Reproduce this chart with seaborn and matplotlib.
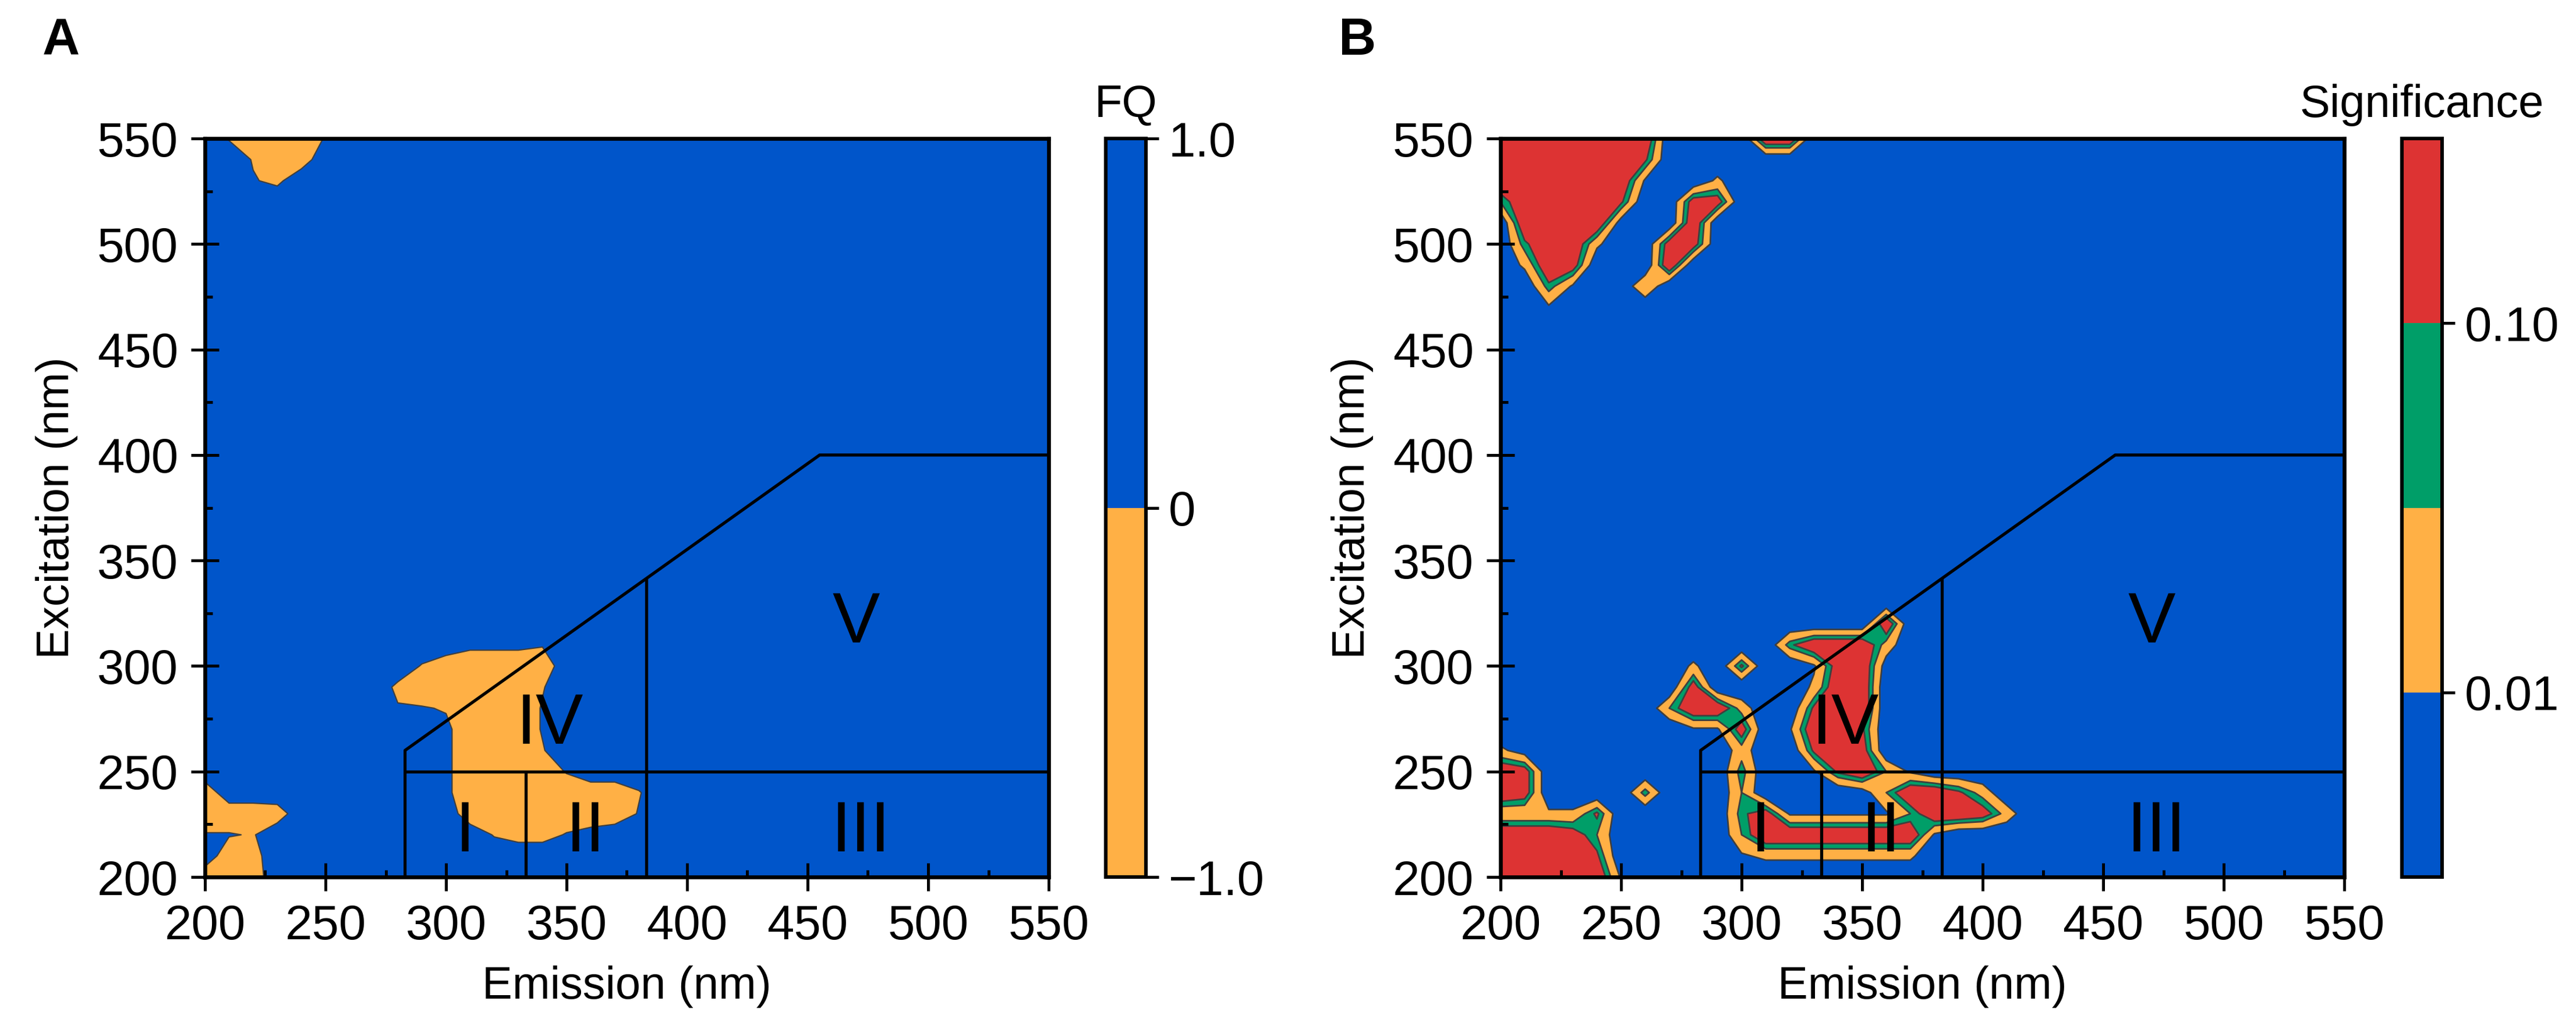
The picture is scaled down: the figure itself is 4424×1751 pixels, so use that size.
import numpy as np
import pandas as pd
import matplotlib
matplotlib.use("Agg")
import matplotlib.pyplot as plt
from matplotlib.ticker import MultipleLocator
import seaborn as sns

# ---------------- data ----------------
emission_nm = [200, 210, 220, 230, 240, 250, 260, 270, 280, 290, 300, 310,
               320, 330, 340, 350, 360, 370, 380, 390, 400, 410, 420, 430,
               440, 450, 460, 470, 480, 490, 500, 510, 520, 530, 540, 550]
# rows listed from top (550 nm) to bottom (200 nm)
excitation_nm = [550, 540, 530, 520, 510, 500, 490, 480, 470, 460, 450, 440,
                 430, 420, 410, 400, 390, 380, 370, 360, 350, 340, 330, 320,
                 310, 300, 290, 280, 270, 260, 250, 240, 230, 220, 210, 200]

# FQ grid, digit d -> FQ = (d - 4.5) / 4.5  (0 = -1.0, 9 = +1.0)
fq_rows = [
    "940005" + "9" * 30,
    "994019" + "9" * 30,
    "9953" + "9" * 32,
] + ["9" * 36] * 21 + [
    "9" * 11 + "6665" + "9" * 21,
    "9" * 9 + "4" + "00000" + "9" * 21,
    "9" * 8 + "3" + "00000" + "4" + "9" * 21,
    "9" * 8 + "554" + "000" + "5" + "9" * 21,
    "9" * 10 + "6" + "000" + "5" + "9" * 21,
    "9" * 10 + "6000" + "4" + "9" * 21,
    "9" * 10 + "6" + "0000" + "5" + "9" * 20,
    "0" + "9" * 9 + "6" + "0000000" + "4" + "9" * 17,
    "0001" + "9" * 7 + "0000000" + "5" + "9" * 17,
    "554" + "9" * 9 + "4225" + "7" + "9" * 19,
    "902" + "9" * 33,
    "001" + "9" * 33,
]

# significance grid (digit value per Em/Ex point)
sig_rows = [
    "9999999" + "0000" + "99" + "0" * 23,
    "999999" + "7" + "0" * 29,
    "999999" + "2" + "00" + "3" + "0" * 26,
    "5" + "9999" + "7" + "00" + "88" + "0" * 26,
    "0" + "9999" + "1" + "00" + "9" + "0" * 27,
    "06993" + "00" + "88" + "0" * 27,
    "03980" + "00" + "9" + "0" * 28,
    "0062" + "00" + "5" + "0" * 29,
    "002" + "0" * 33,
] + ["0" * 36] * 14 + [
    "0" * 16 + "9" + "0" * 19,
    "0" * 12 + "69994" + "0" * 19,
    "0" * 8 + "307002891" + "0" * 19,
    "0" * 8 + "8" + "0000" + "399" + "0" * 20,
    "0" * 7 + "5994007" + "99" + "0" * 20,
    "0" * 8 + "22802997" + "0" * 20,
    "31" + "0" * 8 + "4" + "00" + "798" + "0" * 20,
    "98" + "0" * 8 + "6" + "00" + "27952" + "0" * 18,
    "98" + "0000" + "6" + "000" + "5" + "0000" + "159974" + "0" * 15,
    "33337" + "0" * 5 + "68" + "22222" + "59984" + "0" * 14,
    "99985" + "0" * 5 + "5" + "9999999" + "2" + "0" * 17,
    "99997" + "0" * 5 + "2" + "3333333" + "0" * 18,
    "999992" + "0" * 30,
]

fq_levels = [-1.0, 0.0, 1.0]
fq_ticks = [-1.0, 0.0, 1.0]
fq_tick_labels = ["\u22121.0", "0", "1.0"]
sig_levels = [0.0, 2.4, 5.0, 6.5, 9.0]
sig_ticks = [2.4, 6.5]
sig_tick_labels = ["0.01", "0.10"]

axis_ticks = [200, 250, 300, 350, 400, 450, 500, 550]

# fluorescence regions (emission, excitation)
region_lines_em = [[283, 283, 455, 550], [283, 550], [333, 333], [383, 383]]
region_lines_ex = [[200, 260, 400, 400], [250, 250], [200, 250], [200, 341.4]]
region_names = ["I", "II", "III", "IV", "V"]
region_name_em = [308, 358, 472, 343, 470]
region_name_ex = [221, 221, 221, 272, 320]

# ---------------- style ----------------
BLUE = "#0055CA"
ORANGE = "#FFB045"
GREEN = "#009E68"
RED = "#DD3333"
LINE = "#3f3f3f"

sns.set_theme(style="ticks")
plt.rcParams["font.family"] = ["Liberation Sans", "DejaVu Sans"]
plt.rcParams["axes.unicode_minus"] = True
plt.rcParams["axes.axisbelow"] = False
for key in ("text.color", "axes.labelcolor", "xtick.color", "ytick.color",
            "axes.edgecolor"):
    plt.rcParams[key] = "black"

W, H = 4424, 1751
DPI = 200
fig = plt.figure(figsize=(W / DPI, H / DPI), dpi=DPI)


def to_grid(rows):
    z = np.array([[int(c) for c in r] for r in rows], dtype=float)
    return z[::-1]  # bottom row first


em = np.array(emission_nm, dtype=float)
ex = np.array(excitation_nm[::-1], dtype=float)
ZA = (to_grid(fq_rows) - 4.5) / 4.5
ZB = to_grid(sig_rows)


def box(x0, y0, x1, y1):
    return [x0 / W, 1 - y1 / H, (x1 - x0) / W, (y1 - y0) / H]


axA = fig.add_axes(box(352, 238, 1801, 1507))
caxA = fig.add_axes(box(1899, 238, 1968, 1507))
axB = fig.add_axes(box(2577, 238, 4026, 1507))
caxB = fig.add_axes(box(4125, 238, 4194, 1507))

cfA = axA.contourf(em, ex, ZA, levels=fq_levels, colors=[ORANGE, BLUE])
axA.contour(em, ex, ZA, levels=[0.0], colors=LINE, linewidths=0.8)

cfB = axB.contourf(em, ex, ZB, levels=sig_levels, colors=[BLUE, ORANGE, GREEN, RED])
axB.contour(em, ex, ZB, levels=sig_levels[1:-1], colors=LINE, linewidths=1.0)

for ax in (axA, axB):
    ax.set_axisbelow(False)
    ax.set_xlim(200, 550)
    ax.set_ylim(200, 550)
    ax.set_xticks(axis_ticks)
    ax.set_yticks(axis_ticks)
    ax.xaxis.set_minor_locator(MultipleLocator(25))
    ax.yaxis.set_minor_locator(MultipleLocator(25))
    ax.tick_params(which="major", direction="inout", length=17, width=1.8,
                   labelsize=30, pad=8, colors="black")
    ax.tick_params(which="minor", direction="in", length=4.5, width=1.8,
                   colors="black")
    for s in ax.spines.values():
        s.set_linewidth(2.4)
        s.set_color("black")
        s.set_zorder(5)
    ax.set_xlabel("Emission (nm)", fontsize=28, labelpad=10, color="black")
    ax.set_ylabel("Excitation (nm)", fontsize=28, labelpad=12, color="black")
    for xs, ys in zip(region_lines_em, region_lines_ex):
        ax.plot(xs, ys, color="black", lw=1.9, solid_capstyle="butt", zorder=4)
    for name, x, y in zip(region_names, region_name_em, region_name_ex):
        ax.text(x, y, name, fontsize=44, ha="center", va="center",
                color="black", zorder=4)

cbA = fig.colorbar(cfA, cax=caxA, ticks=fq_ticks)
cbA.ax.set_yticklabels(fq_tick_labels)
cbB = fig.colorbar(cfB, cax=caxB, ticks=sig_ticks)
cbB.ax.set_yticklabels(sig_tick_labels)
for cb in (cbA, cbB):
    cb.outline.set_linewidth(2.2)
    cb.outline.set_edgecolor("black")
    cb.ax.tick_params(direction="out", length=8, width=1.8, labelsize=30,
                      pad=6, colors="black")
    cb.ax.minorticks_off()

caxA.text(0.5, 1 + (238 - 201) / 1269, "FQ", transform=caxA.transAxes,
          ha="center", va="baseline", fontsize=28, color="black")
caxB.text(0.5, 1 + (238 - 201) / 1269, "Significance", transform=caxB.transAxes,
          ha="center", va="baseline", fontsize=28, color="black")

fig.text(73 / W, 1 - 94 / H, "A", fontsize=32, fontweight="bold",
         ha="left", va="baseline", color="black")
fig.text(2299 / W, 1 - 94 / H, "B", fontsize=32, fontweight="bold",
         ha="left", va="baseline", color="black")

fig.savefig("out.png", dpi=DPI)
